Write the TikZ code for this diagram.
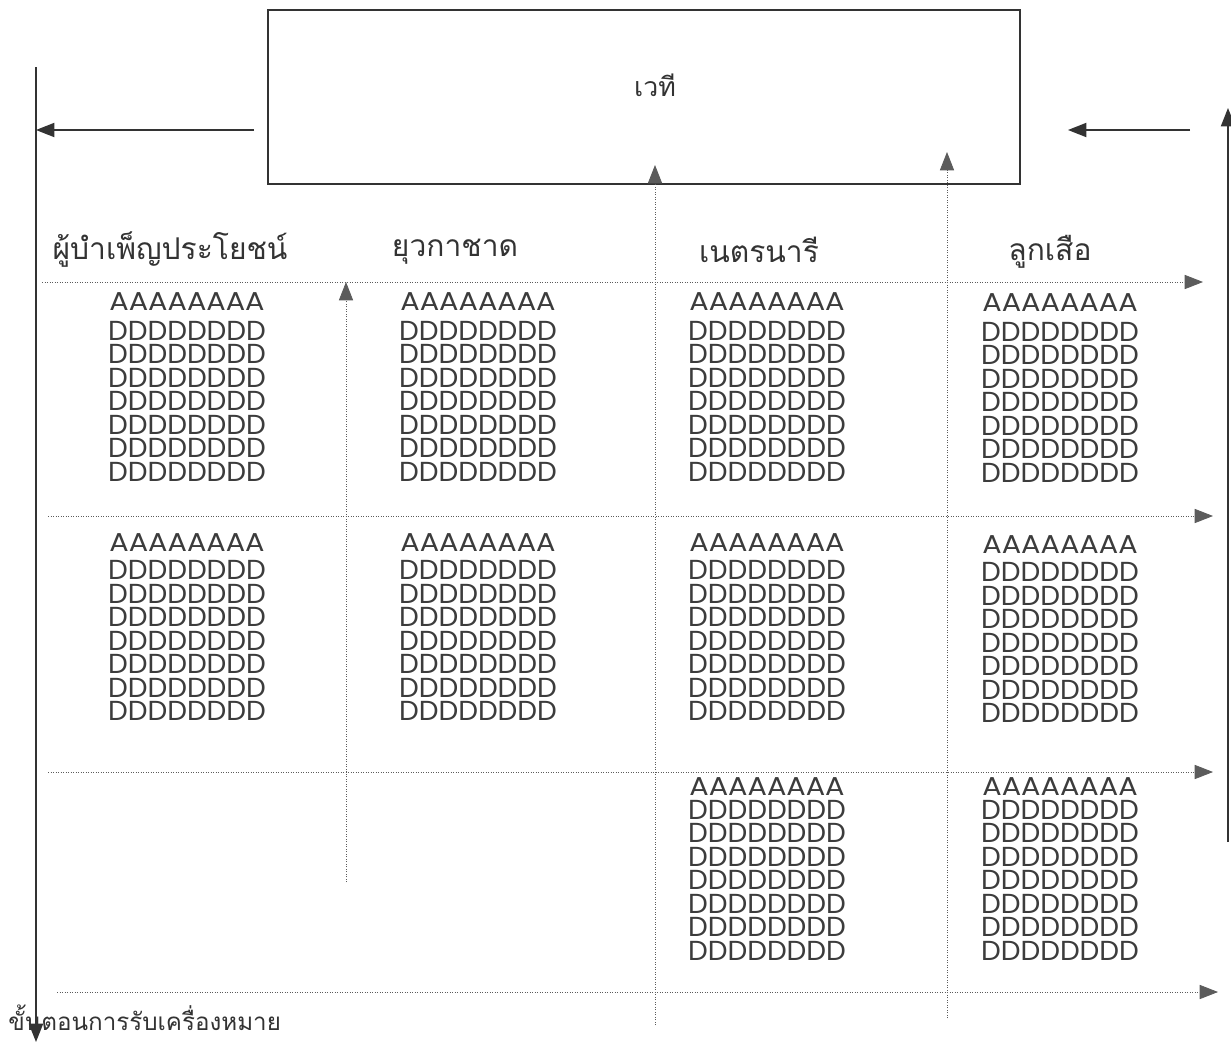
\documentclass[tikz,border=0pt]{standalone}
\usepackage{fontspec}
\setmainfont{Poppins}
\newfontfamily\gothicA[FakeStretch=1.115]{Poppins}
\newfontfamily\gothicD[FakeStretch=1.015]{Poppins}
\newfontfamily\thaifont[Script=Thai]{Loma}
\usetikzlibrary{arrows.meta}
\definecolor{ink}{HTML}{333333}
\definecolor{txt}{HTML}{3C3C3C}
\tikzset{
  solidline/.style={draw=ink, line width=0.8pt},
  dotline/.style={draw=ink!80, line width=0.5pt, dash pattern=on 0.5pt off 1pt},
  tip/.style={-{Triangle[length=11pt,width=8.5pt]}},
  block/.style={inner sep=0pt, align=center, text=txt, font=\gothicD\fontsize{16.5}{14.1}\selectfont},
  head/.style={inner sep=0pt, text=ink, font=\thaifont\fontsize{18}{20}\selectfont},
  foot/.style={inner sep=0pt, text=ink, font=\thaifont\fontsize{14.5}{16}\selectfont},
}
\newcommand{\blk}[1]{{\gothicA\fontsize{15.5}{14.1}\selectfont AAAAAAAA}\\[#1]DDDDDDDD\\DDDDDDDD\\DDDDDDDD\\DDDDDDDD\\DDDDDDDD\\DDDDDDDD\\DDDDDDDD}
\begin{document}
\begin{tikzpicture}[x=0.6pt,y=-0.6pt]
\useasboundingbox (0,0) rectangle (1231,1043);
% stage box
\node[solidline, draw, minimum width=752*0.6pt, minimum height=174*0.6pt, inner sep=0pt] (stage) at (644,97) {};
\node[head, font=\thaifont\fontsize{16}{18}\selectfont] (stagetxt) at (655,85) {เวที};
% left main line
\coordinate (lt) at (36,67);
\coordinate (lb) at (36,1042);
\draw[solidline, tip] (lt) -- (lb);
\coordinate (la1) at (254,130);
\coordinate (la2) at (36,130);
\draw[solidline, tip] (la1) -- (la2);
% right main line
\coordinate (rb) at (1228,842);
\coordinate (rt) at (1228,108);
\draw[solidline, tip] (rb) -- (rt);
\coordinate (ra1) at (1190,130);
\coordinate (ra2) at (1068,130);
\draw[solidline, tip] (ra1) -- (ra2);
% dotted verticals
\coordinate (v1b) at (346,882); \coordinate (v1t) at (346,282);
\coordinate (v2b) at (655,1025); \coordinate (v2t) at (655,165);
\coordinate (v3b) at (947,1018); \coordinate (v3t) at (947,152);
\draw[dotline, tip] (v1b) -- (v1t);
\draw[dotline, tip] (v2b) -- (v2t);
\draw[dotline, tip] (v3b) -- (v3t);
% dotted horizontals
\coordinate (h1a) at (42,282); \coordinate (h1b) at (1203,282);
\coordinate (h2a) at (48,516); \coordinate (h2b) at (1213,516);
\coordinate (h3a) at (48,772); \coordinate (h3b) at (1213,772);
\coordinate (h4a) at (57,992); \coordinate (h4b) at (1218,992);
\draw[dotline, tip] (h1a) -- (h1b);
\draw[dotline, tip] (h2a) -- (h2b);
\draw[dotline, tip] (h3a) -- (h3b);
\draw[dotline, tip] (h4a) -- (h4b);
% headers
\node[head] (c1) at (170,250) {ผู้บำเพ็ญประโยชน์};
\node[head] (c2) at (455,252) {ยุวกาชาด};
\node[head] (c3) at (759,250) {เนตรนารี};
\node[head] (c4) at (1050,252) {ลูกเสือ};
\node[foot, anchor=west] (steps) at (8,1018) {ขั้นตอนการรับเครื่องหมาย};
% blocks
\node[block] (b11) at (187,387) {\blk{3.9pt}};
\node[block] (b12) at (478,387) {\blk{3.9pt}};
\node[block] (b13) at (767,387) {\blk{3.9pt}};
\node[block] (b14) at (1060,388) {\blk{3.9pt}};
\node[block] (b21) at (187,627) {\blk{3pt}};
\node[block] (b22) at (478,627) {\blk{3pt}};
\node[block] (b23) at (767,627) {\blk{3pt}};
\node[block] (b24) at (1060,629) {\blk{3pt}};
\node[block] (b33) at (767,869) {\blk{0pt}};
\node[block] (b34) at (1060,869) {\blk{0pt}};
\end{tikzpicture}
\end{document}
